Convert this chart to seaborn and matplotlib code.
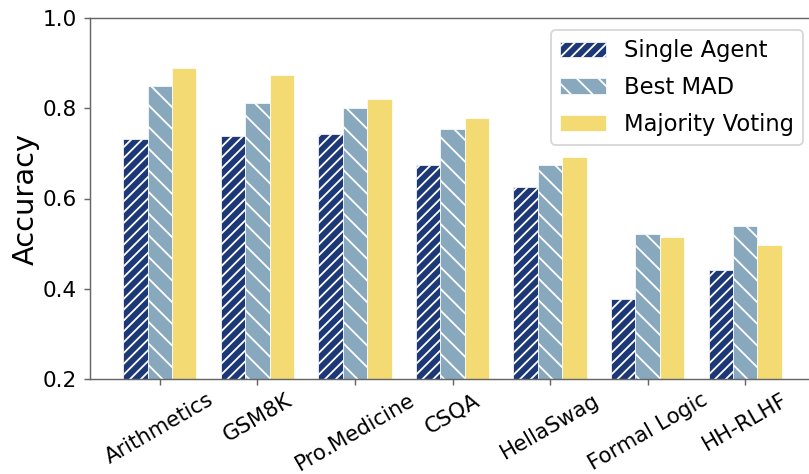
import matplotlib
matplotlib.use("Agg")
import matplotlib.pyplot as plt
from matplotlib.patches import Patch
import numpy as np
import pandas as pd
import seaborn as sns

# Benchmark tasks and accuracy of each method
tasks = ["Arithmetics", "GSM8K", "Pro.Medicine", "CSQA", "HellaSwag",
         "Formal Logic", "HH-RLHF"]
methods = ["Single Agent", "Best MAD", "Majority Voting"]
single_agent = [0.731, 0.738, 0.743, 0.675, 0.625, 0.377, 0.442]
best_mad = [0.849, 0.812, 0.800, 0.755, 0.675, 0.522, 0.538]
majority_voting = [0.890, 0.874, 0.820, 0.779, 0.692, 0.515, 0.496]

colors = ["#1d3876", "#88a8be", "#f4da72"]
hatches = ["////", "\\\\", ""]

df = pd.DataFrame({
    "task": tasks * 3,
    "method": [m for m in methods for _ in tasks],
    "accuracy": single_agent + best_mad + majority_voting,
})

plt.rcParams["font.family"] = ["DejaVu Sans"]
plt.rcParams["hatch.linewidth"] = 1.0

dpi = 130
fig = plt.figure(figsize=(809 / dpi, 474 / dpi), dpi=dpi)
ax = fig.add_axes([90 / 809, 95 / 474, 725 / 809, 361 / 474])

sns.barplot(data=df, x="task", y="accuracy", hue="method",
            hue_order=methods, order=tasks, palette=colors, saturation=1,
            width=0.75, edgecolor="white", linewidth=0.4,
            legend=False, ax=ax)

for container, hatch in zip(ax.containers, hatches):
    for bar in container:
        bar.set_hatch(hatch)

ax.set_xlim(-0.716, len(tasks) - 1 + 0.716)
ax.set_ylim(0.2, 1.0)
ax.set_yticks([0.2, 0.4, 0.6, 0.8, 1.0])
ax.set_xlabel("")
ax.set_ylabel("Accuracy", fontsize=16, labelpad=2)
ax.tick_params(axis="y", labelsize=12)
ax.tick_params(axis="x", labelsize=11.8, labelrotation=30, pad=2.5)
for lab in ax.get_xticklabels():
    lab.set_ha("center")

for side in ["left", "bottom", "top", "right"]:
    ax.spines[side].set_color("#666666")
ax.tick_params(colors="#666666", labelcolor="black")

handles = [Patch(facecolor=c, edgecolor="white", hatch=h, linewidth=0.4, label=m)
           for c, h, m in zip(colors, hatches, methods)]
ax.legend(handles=handles, loc="upper right", fontsize=12.5,
          labelspacing=0.6, borderaxespad=0.55)

fig.savefig("out.png", dpi=dpi)
